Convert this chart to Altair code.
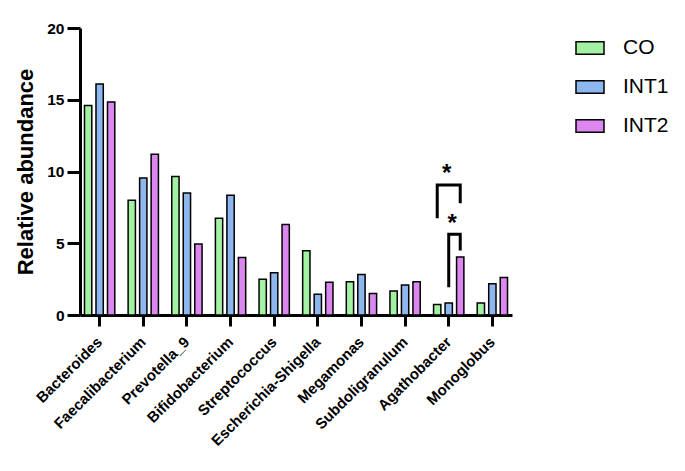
import altair as alt
import pandas as pd

genera = ["Bacteroides", "Faecalibacterium", "Prevotella_9", "Bifidobacterium",
          "Streptococcus", "Escherichia-Shigella", "Megamonas", "Subdoligranulum",
          "Agathobacter", "Monoglobus"]
groups = ["CO", "INT1", "INT2"]
co = [14.6, 8.0, 9.65, 6.75, 2.5, 4.48, 2.32, 1.67, 0.74, 0.83]
int1 = [16.1, 9.55, 8.5, 8.35, 2.95, 1.44, 2.83, 2.09, 0.83, 2.18]
int2 = [14.85, 11.2, 4.95, 4.0, 6.3, 2.28, 1.5, 2.32, 4.04, 2.62]
colors = ["#a3f2a3", "#8fb7ef", "#dc86f0"]

# significance brackets (Agathobacter)
br_id = [1, 1, 1, 1, 2, 2, 2, 2]
br_group = ["CO", "CO", "INT2", "INT2", "INT1", "INT1", "INT2", "INT2"]
br_val = [6.85, 9.06, 9.06, 7.9, 2.04, 5.62, 5.62, 4.6]
star1_group = ["INT1"]
star1_val = [9.85]
star2_group = ["INT2"]
star2_val = [6.35]

rows = []
for i, g in enumerate(genera):
    for grp, vals in zip(groups, [co, int1, int2]):
        rows.append({"genus": g, "group": grp, "value": vals[i]})
df = pd.DataFrame(rows)

br = pd.DataFrame({"genus": ["Agathobacter"] * len(br_id), "bracket": br_id,
                   "group": br_group, "value": br_val, "ord": list(range(len(br_id)))})
s1 = pd.DataFrame({"genus": ["Agathobacter"], "group": star1_group,
                   "value": star1_val, "label": ["*"]})
s2 = pd.DataFrame({"genus": ["Agathobacter"], "group": star2_group,
                   "value": star2_val, "label": ["*"]})

xscale = alt.Scale(domain=genera, paddingInner=0.2, paddingOuter=0.05)
xoff = alt.Scale(domain=groups, paddingInner=0.365, paddingOuter=0.2)

bars = alt.Chart(df).mark_bar(stroke="black", strokeWidth=1.5).encode(
    x=alt.X("genus:N", sort=genera, scale=xscale, title=None,
            axis=alt.Axis(labelAngle=-45, labelAlign="right", labelBaseline="middle",
                          labelFontSize=15, labelFontWeight="bold", labelColor="black",
                          labelPadding=13, tickSize=11, tickWidth=3, tickColor="black",
                          domainWidth=3, domainColor="black", labelFont="Liberation Sans")),
    xOffset=alt.XOffset("group:N", sort=groups, scale=xoff),
    y=alt.Y("value:Q", scale=alt.Scale(domain=[0, 20]), title="Relative abundance",
            axis=alt.Axis(values=[0, 5, 10, 15, 20], labelFontSize=15.5, labelFontWeight="bold",
                          labelColor="black", tickSize=13, tickWidth=3, tickColor="black",
                          labelPadding=3,
                          domainWidth=3, domainColor="black", titleFontSize=22,
                          titleFontWeight="bold", titleColor="black", titlePadding=9,
                          labelFont="Liberation Sans", titleFont="Liberation Sans",
                          grid=False)),
    color=alt.Color("group:N", sort=groups, scale=alt.Scale(domain=groups, range=colors),
                    legend=alt.Legend(title=None, orient="none", legendX=495, legendY=5,
                                      symbolType="M-1,-0.45L1,-0.45L1,0.45L-1,0.45Z",
                                      symbolSize=784, symbolStrokeColor="black",
                                      symbolStrokeWidth=1.5, labelFontSize=21,
                                      labelFont="Liberation Sans", labelColor="black",
                                      rowPadding=14, labelOffset=18)),
)

lines = alt.Chart(br).mark_line(color="black", strokeWidth=3, strokeCap="square").encode(
    x=alt.X("genus:N", sort=genera, scale=xscale),
    xOffset=alt.XOffset("group:N", sort=groups, scale=xoff),
    y=alt.Y("value:Q"),
    detail="bracket:N",
    order="ord:Q",
)

txt1 = alt.Chart(s1).mark_text(fontSize=24, fontWeight="bold", color="black",
                               font="Liberation Sans", baseline="middle", dx=-2).encode(
    x=alt.X("genus:N", sort=genera, scale=xscale),
    xOffset=alt.XOffset("group:N", sort=groups, scale=xoff),
    y=alt.Y("value:Q"),
    text="label:N",
)
txt2 = alt.Chart(s2).mark_text(fontSize=24, fontWeight="bold", color="black",
                               font="Liberation Sans", baseline="middle", dx=-8).encode(
    x=alt.X("genus:N", sort=genera, scale=xscale),
    xOffset=alt.XOffset("group:N", sort=groups, scale=xoff),
    y=alt.Y("value:Q"),
    text="label:N",
)

chart = alt.layer(bars, lines, txt1, txt2).properties(
    width=432, height=287,
    background="white",
    autosize=alt.AutoSizeParams(type="none"),
    padding={"left": 72, "top": 20, "right": 165, "bottom": 148},
).configure_view(stroke=None)

chart.save("out.html", embed_options={"renderer": "svg", "actions": False})
